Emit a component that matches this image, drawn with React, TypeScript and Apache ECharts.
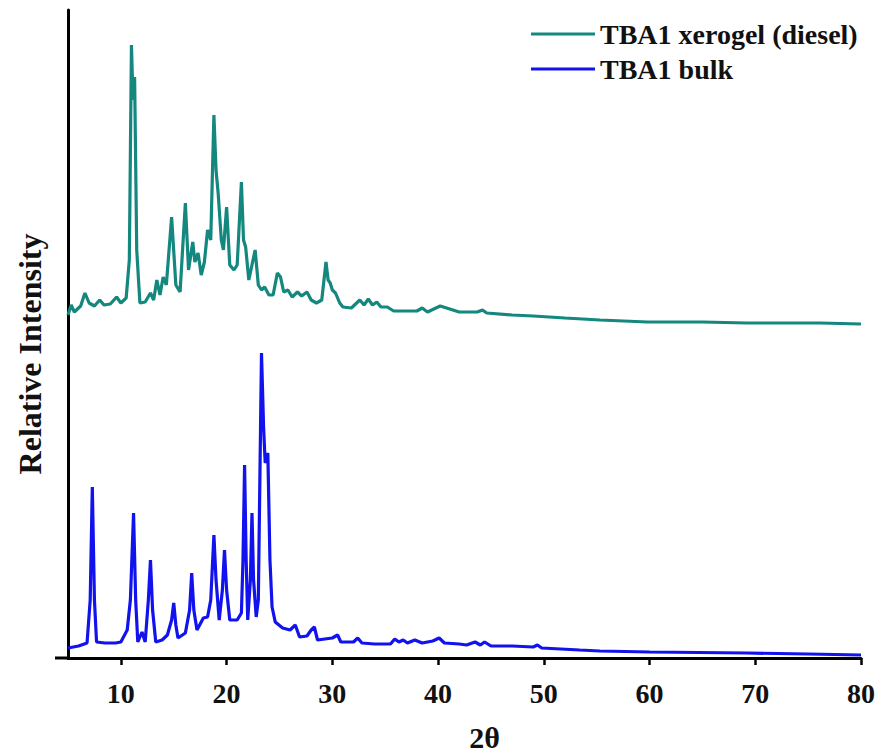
import React, { useEffect, useRef } from "react";
import * as echarts from "echarts";

// 2θ positions and relative intensities (arbitrary units, offset traces)
const xerogelX = [
  5.0, 5.3, 5.6, 6.2, 6.6, 7.0, 7.5, 8.0, 8.4, 9.0, 9.6, 10.0, 10.5, 10.8, 11.0, 11.15, 11.3, 11.5, 11.8,
  12.3, 12.8, 13.1, 13.4, 13.7, 14.0, 14.3, 14.8, 15.2, 15.6, 16.1, 16.4, 16.8, 17.0, 17.3, 17.6, 17.9,
  18.2, 18.5, 18.8, 19.0, 19.2, 19.5, 19.7, 20.0, 20.3, 20.7, 21.0, 21.4, 21.6, 21.8, 22.1, 22.4, 22.7,
  23.0, 23.3, 23.6, 24.0, 24.4, 24.8, 25.1, 25.4, 25.8, 26.2, 26.7, 27.1, 27.6, 28.0, 28.5, 29.0, 29.4,
  29.6, 29.8, 30.0, 30.3, 30.7, 31.0, 31.8, 32.6, 33.0, 33.4, 33.8, 34.2, 34.6, 35.2, 35.8, 37.0, 38.0,
  38.5, 39.0, 40.2, 41.1, 42.0, 43.7, 44.2, 44.6, 47.0, 49.0, 52.0, 55.3, 59.8, 65.0, 69.2, 76.1, 80.0,
];
const xerogelY = [
  343, 353, 346, 352, 365, 355, 352, 358, 353, 354, 361, 355, 360, 398, 613, 558, 581, 408, 355,
  356, 365, 358, 378, 363, 381, 373, 441, 373, 366, 455, 388, 416, 396, 405, 383, 396,
  428, 418, 543, 488, 465, 418, 408, 451, 393, 388, 393, 476, 418, 411, 378, 393, 408,
  373, 368, 371, 363, 363, 385, 381, 366, 368, 361, 366, 362, 366, 358, 355, 358, 396,
  378, 375, 368, 365, 355, 351, 350, 358, 353, 359, 353, 356, 351, 351, 347, 347, 347,
  350, 346, 352, 349, 346, 346, 348, 345, 343, 342, 340, 338, 336, 336, 335, 335, 334,
];

const bulkX = [
  5.0, 6.0, 6.8, 7.1, 7.3, 7.5, 7.7, 8.5, 9.5, 10.0, 10.6, 10.9, 11.2, 11.4, 11.6, 12.0, 12.3, 12.6, 12.8,
  13.0, 13.3, 13.9, 14.4, 14.8, 15.0, 15.2, 15.4, 16.1, 16.5, 16.7, 16.9, 17.2, 17.8, 18.2, 18.5, 18.8,
  19.0, 19.3, 19.6, 19.8, 20.0, 20.3, 21.0, 21.4, 21.55, 21.7, 21.85, 22.0, 22.25, 22.4, 22.55, 22.8,
  23.0, 23.3, 23.5, 23.65, 23.9, 24.1, 24.3, 24.6, 25.3, 26.0, 26.5, 26.9, 27.6, 28.0, 28.3, 28.6, 30.0,
  30.5, 30.8, 32.0, 32.4, 32.8, 34.0, 35.5, 35.9, 36.3, 36.7, 37.1, 37.8, 38.5, 39.5, 40.1, 40.6, 42.0,
  42.7, 43.5, 44.0, 44.4, 45.0, 47.0, 49.0, 49.4, 49.8, 53.4, 55.3, 60.0, 69.2, 75.0, 80.0,
];
const bulkY = [
  10, 12, 15, 58, 171, 58, 16, 15, 15, 16, 28, 58, 145, 58, 16, 26, 16, 58, 98,
  48, 16, 18, 23, 38, 55, 33, 20, 25, 48, 85, 48, 28, 40, 41, 58, 123,
  78, 38, 68, 108, 68, 38, 38, 45, 98, 193, 98, 38, 78, 145, 78, 41,
  58, 305, 230, 195, 205, 98, 51, 36, 30, 28, 33, 21, 22, 28, 31, 18, 20,
  23, 16, 16, 20, 15, 14, 14, 19, 16, 18, 15, 18, 15, 17, 20, 15, 14,
  13, 16, 13, 16, 12, 12, 11, 13, 10, 8, 7, 6, 5, 4, 3,
];

const xTickValues = [10, 20, 30, 40, 50, 60, 70, 80];
const seriesNames = ["TBA1 xerogel (diesel)", "TBA1 bulk"];
const xAxisTitle = "2θ";
const yAxisTitle = "Relative Intensity";

const FONT = "'Liberation Serif', 'Times New Roman', serif";
const TEAL = "#14877f";
const BLUE = "#1212ee";

export default function App() {
  const ref = useRef<HTMLDivElement>(null);

  useEffect(() => {
    if (!ref.current) return;
    const chart = echarts.init(ref.current, undefined, { renderer: "svg" });
    const xerogelData = xerogelX.map((x, i) => [x, xerogelY[i]]);
    const bulkData = bulkX.map((x, i) => [x, bulkY[i]]);

    chart.setOption({
      animation: false,
      backgroundColor: "#ffffff",
      grid: { left: 68, top: 10, width: 793, height: 648, outerBoundsMode: "none", containLabel: false },
      legend: {
        orient: "vertical",
        left: 526,
        top: 14,
        itemWidth: 64,
        itemHeight: 3,
        itemGap: 5,
        icon: "rect",
        data: seriesNames,
        textStyle: {
          fontFamily: FONT,
          fontWeight: "bold",
          fontSize: 28,
          lineHeight: 30,
          color: "#111",
        },
      },
      graphic: [
        {
          type: "line",
          shape: { x1: 55, y1: 658, x2: 70, y2: 658 },
          style: { stroke: "#000", lineWidth: 3 },
          z: 10,
        },
      ],
      xAxis: {
        type: "value",
        min: 5,
        max: 80,
        name: xAxisTitle,
        nameLocation: "middle",
        nameGap: 64,
        nameTextStyle: {
          fontFamily: FONT,
          fontWeight: "bold",
          fontSize: 30,
          color: "#111",
          padding: [0, 0, 0, 40],
        },
        axisLine: { show: true, onZero: false, lineStyle: { color: "#000", width: 3 } },
        axisTick: {
          show: true,
          inside: false,
          length: 7,
          customValues: xTickValues,
          lineStyle: { color: "#000", width: 2.5 },
        },
        axisLabel: {
          customValues: xTickValues,
          fontFamily: FONT,
          fontWeight: "bold",
          fontSize: 28,
          color: "#111",
          margin: 21,
        },
        splitLine: { show: false },
      },
      yAxis: {
        type: "value",
        min: 0,
        max: 648,
        name: yAxisTitle,
        nameLocation: "middle",
        nameGap: 22,
        nameRotate: 90,
        nameTextStyle: {
          fontFamily: FONT,
          fontWeight: "bold",
          fontSize: 32,
          color: "#111",
          padding: [0, 40, 0, 0],
        },
        axisLine: { show: true, onZero: false, lineStyle: { color: "#000", width: 3 } },
        axisTick: { show: false },
        axisLabel: { show: false },
        splitLine: { show: false },
      },
      series: [
        {
          name: seriesNames[0],
          type: "line",
          data: xerogelData,
          showSymbol: false,
          symbol: "none",
          color: TEAL,
          lineStyle: { color: TEAL, width: 3.2 },
          z: 3,
        },
        {
          name: seriesNames[1],
          type: "line",
          data: bulkData,
          showSymbol: false,
          symbol: "none",
          color: BLUE,
          lineStyle: { color: BLUE, width: 3.2 },
          z: 2,
        },
      ],
    });

    return () => chart.dispose();
  }, []);

  return (
    <div
      ref={ref}
      style={{ position: "fixed", left: 0, top: 0, width: 883, height: 752 }}
    />
  );
}
